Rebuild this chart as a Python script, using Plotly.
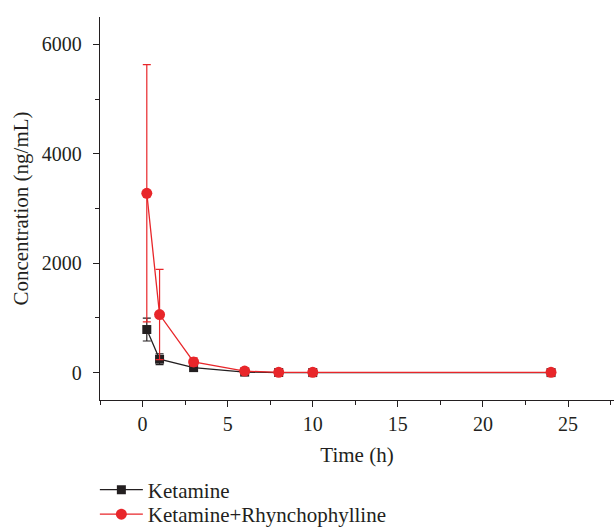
import plotly.graph_objects as go

time_h = [0.25, 1, 3, 6, 8, 10, 24]
ketamine = [788, 245, 92, 10, 2, 1, 1]
ketamine_err = [210, 100, 30, 8, 2, 1, 1]
combo = [3278, 1062, 195, 28, 5, 5, 5]
combo_err = [2350, 824, 75, 12, 4, 3, 3]

black = "#231f20"
red = "#e8262a"
font = "Liberation Serif"

fig = go.Figure()
fig.add_trace(go.Scatter(
    x=time_h, y=ketamine, name="Ketamine", mode="lines+markers",
    line=dict(color=black, width=1.3),
    marker=dict(symbol="square", size=9, color=black),
    error_y=dict(type="data", array=ketamine_err, color=black, thickness=1.2, width=4),
    legend="legend",
))
fig.add_trace(go.Scatter(
    x=time_h, y=combo, name="Ketamine+Rhynchophylline", mode="lines+markers",
    line=dict(color=red, width=1.3),
    marker=dict(symbol="circle", size=11, color=red),
    error_y=dict(type="data", array=combo_err, color=red, thickness=1.2, width=4),
    legend="legend2",
))

axis_common = dict(
    showline=True, linecolor=black, linewidth=1.3, ticks="outside", ticklen=6,
    tickwidth=1.2, tickcolor=black, showgrid=False, zeroline=False,
    tickfont=dict(family=font, size=20, color=black),
    title_font=dict(family=font, size=21, color=black),
)
fig.update_xaxes(range=[-2.5, 27.7], tickvals=[0, 5, 10, 15, 20, 25],
                 minor=dict(ticks="outside", ticklen=4, tickwidth=1.2, tickcolor=black, dtick=2.5, tick0=0),
                 title_text="Time (h)", title_standoff=13, **axis_common)
fig.update_yaxes(range=[-500, 6500], tickvals=[0, 2000, 4000, 6000],
                 minor=dict(ticks="outside", ticklen=4, tickwidth=1.2, tickcolor=black, dtick=1000, tick0=0),
                 ticklabelstandoff=7,
                 title_text="Concentration (ng/mL)", title_standoff=7, **axis_common)

leg_common = dict(x=-0.01, xanchor="left", yref="container", yanchor="middle", itemwidth=43,
                  font=dict(family=font, size=21, color=black),
                  bgcolor="rgba(0,0,0,0)")
fig.update_layout(
    width=614, height=528,
    margin=dict(l=100, r=0, t=17, b=128, autoexpand=False),
    paper_bgcolor="white", plot_bgcolor="white",
    showlegend=True,
    legend=dict(y=1 - 490 / 528, **leg_common),
    legend2=dict(y=1 - 514.5 / 528, **leg_common),
)
fig.write_html("out.html")
